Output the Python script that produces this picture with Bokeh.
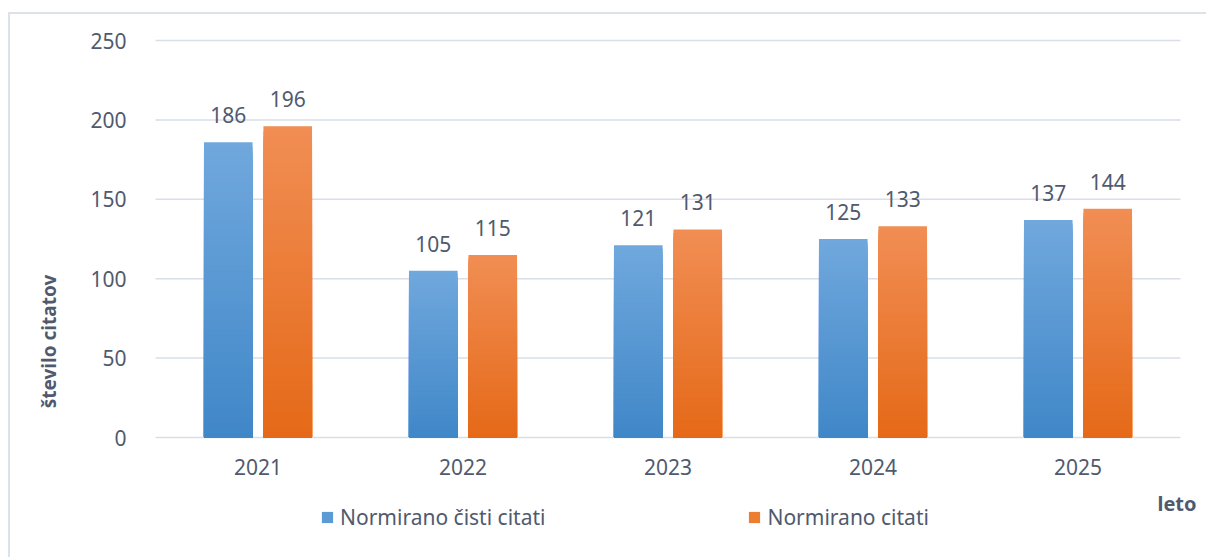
import math
from bokeh.plotting import figure
from bokeh.models import Range1d, Legend, LegendItem, Label, FixedTicker, ColumnDataSource
from bokeh.embed import file_html
from bokeh.resources import INLINE
from bokeh.core.properties import value

years = ["2021", "2022", "2023", "2024", "2025"]
cisti = [186, 105, 121, 125, 137]
citati = [196, 115, 131, 133, 144]
series_names = ["Normirano čisti citati", "Normirano citati"]
y_ticks = [0, 50, 100, 150, 200, 250]

FONT = "Noto Sans"
TXT = "#505a6e"
GRID = "#d9dee7"

# layout constants (pixels, page coordinates)
W, H = 1198, 545
OX, OY = 10, 14            # canvas origin on the page
PLOT_L, PLOT_R = 155, 1180  # data area
PLOT_T, PLOT_B = 40, 437
n = len(years)
ymax = y_ticks[-1]
sx = (PLOT_R - PLOT_L) / n
sy = (PLOT_B - PLOT_T) / ymax
x_rng = Range1d(-(PLOT_L - OX) / sx, (OX + W - PLOT_L) / sx)
y_rng = Range1d(-(OY + H - PLOT_B) / sy, (PLOT_B - OY) / sy)

p = figure(x_range=x_rng, y_range=y_rng, width=W, height=H, output_backend="svg",
           toolbar_location=None, min_border=0, min_border_left=0, min_border_right=0,
           min_border_top=0, min_border_bottom=0)
p.styles = {"border-top": "2px solid #dde2ea", "border-left": "2px solid #dde2ea",
            "margin-top": "12px", "margin-left": "8px"}

# gridlines over the data area
p.segment(x0=0, x1=n, y0=y_ticks, y1=y_ticks, line_color=GRID, line_width=1.5)

N = 60
def lerp(c1, c2, t):
    return "#%02x%02x%02x" % tuple(int(round(a + (b - a) * t)) for a, b in zip(c1, c2))

series = [
    (cisti, -0.145, (112, 168, 221), (64, 135, 200), "#5b9bd5"),
    (citati, 0.145, (241, 142, 84), (229, 105, 24), "#ed7d31"),
]
centers = [i + 0.5 for i in range(n)]
legend_items = []
for (vals, off, ctop, cbot, solid), name in zip(series, series_names):
    xs, tops, cols = [], [], []
    for i in range(N):
        t = (i + 0.5) / N
        for c, v in zip(centers, vals):
            xs.append(c + off)
            tops.append(v * (1 - i / N))
            cols.append(lerp(ctop, cbot, t))
    src = ColumnDataSource(dict(x=xs, top=tops, c=cols))
    p.vbar(x="x", top="top", bottom=0, width=0.237, fill_color="c", line_color=None, source=src)
    lsrc = ColumnDataSource(dict(x=[c + off for c in centers], v=vals, t=[str(v) for v in vals]))
    p.text(x="x", y="v", text="t", source=lsrc, text_align="center", text_baseline="alphabetic",
           y_offset=-27, text_font=value(FONT), text_font_size="21px", text_color=TXT)
    # legend swatch renderer (kept far outside the visible range)
    dummy = p.vbar(x=[-1000], bottom=[-5000], top=[-4999], width=0.1,
                   fill_color=solid, line_color=None)
    legend_items.append(LegendItem(label=name, renderers=[dummy]))

legend = Legend(items=legend_items, orientation="horizontal", location=(310, 28),
                glyph_width=14, glyph_height=14, label_standoff=6, spacing=202,
                padding=0, margin=0, border_line_color=None, background_fill_alpha=0,
                label_text_font=FONT, label_text_font_size="21px", label_text_color=TXT)
p.add_layout(legend, "center")

p.add_layout(Label(x=(1196 - PLOT_L) / sx, y=-(503 - PLOT_B) / sy, text="leto",
                   text_align="right", text_baseline="middle", text_font=FONT,
                   text_font_size="20px", text_font_style="bold", text_color=TXT))
p.add_layout(Label(x=(48 - PLOT_L) / sx, y=(PLOT_B - 341) / sy, text="število citatov",
                   angle=math.pi / 2, text_align="center", text_baseline="middle",
                   text_font=FONT, text_font_size="19px", text_font_style="bold",
                   text_color=TXT))

p.xaxis.fixed_location = 0
p.yaxis.fixed_location = 0
p.xaxis.ticker = FixedTicker(ticks=centers)
p.xaxis.major_label_overrides = {c: y for c, y in zip(centers, years)}
p.yaxis.ticker = FixedTicker(ticks=y_ticks)
for ax in (p.xaxis, p.yaxis):
    ax.axis_line_color = None
    ax.major_tick_line_color = None
    ax.minor_tick_line_color = None
    ax.major_label_text_font = FONT
    ax.major_label_text_font_size = "21px"
    ax.major_label_text_color = TXT
p.yaxis.major_label_standoff = 23
p.xaxis.major_label_standoff = 15
p.xgrid.visible = False
p.ygrid.visible = False
p.outline_line_color = None

open("out.html", "w").write(file_html(p, INLINE))
